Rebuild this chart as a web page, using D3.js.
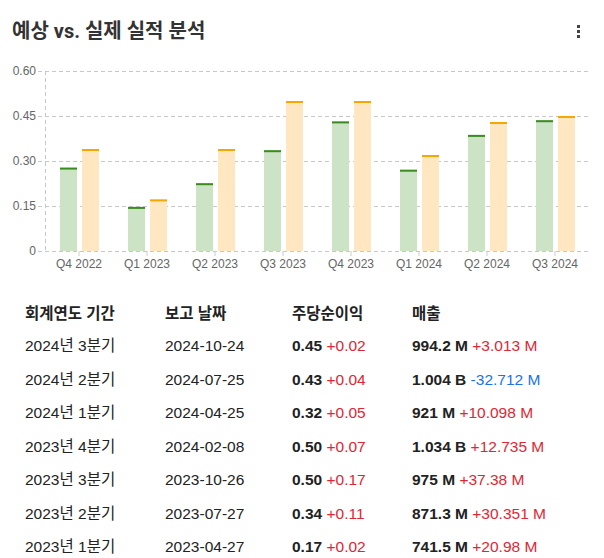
<!DOCTYPE html>
<html lang="ko">
<head>
<meta charset="UTF-8">
<title>예상 vs. 실제 실적 분석</title>
<style>
    body { margin: 0; background: #fff; }
    svg { display: block; }
    .title { font: bold 20px "Roboto", "Noto Sans CJK KR", sans-serif; fill: #333; }
    .axis text { font: 12px "Liberation Sans", "Roboto", sans-serif; fill: #666; }
    .grid line { stroke: #c8c8c8; stroke-dasharray: 4,3; }
    .cell { font: 15.5px "Liberation Sans", "Noto Sans CJK KR", sans-serif; fill: #222; }
    .head { font-weight: bold; }
</style>
</head>
<body>
<script src="https://d3js.org/d3.v7.min.js"></script>
<script>
    // chart data
    var quarters = ["Q4 2022", "Q1 2023", "Q2 2023", "Q3 2023", "Q4 2023", "Q1 2024", "Q2 2024", "Q3 2024"];
    var epsEstimate = [0.278, 0.147, 0.226, 0.336, 0.432, 0.271, 0.387, 0.436];
    var epsActual = [0.34, 0.172, 0.34, 0.50, 0.50, 0.32, 0.43, 0.45];
    var yTicks = [0, 0.15, 0.30, 0.45, 0.60];

    // table data
    var headers = ["회계연도 기간", "보고 날짜", "주당순이익", "매출"];
    var periods = ["2024년 3분기", "2024년 2분기", "2024년 1분기", "2023년 4분기", "2023년 3분기", "2023년 2분기", "2023년 1분기"];
    var reportDates = ["2024-10-24", "2024-07-25", "2024-04-25", "2024-02-08", "2023-10-26", "2023-07-27", "2023-04-27"];
    var epsReported = ["0.45", "0.43", "0.32", "0.50", "0.50", "0.34", "0.17"];
    var epsSurprise = ["+0.02", "+0.04", "+0.05", "+0.07", "+0.17", "+0.11", "+0.02"];
    var revenue = ["994.2 M", "1.004 B", "921 M", "1.034 B", "975 M", "871.3 M", "741.5 M"];
    var revenueSurprise = ["+3.013 M", "-32.712 M", "+10.098 M", "+12.735 M", "+37.38 M", "+30.351 M", "+20.98 M"];

    var W = 604, H = 558;
    var plot = {left: 45, right: 589, top: 71, bottom: 251};

    var svg = d3.select("body").append("svg")
        .attr("width", W)
        .attr("height", H);

    svg.append("text")
        .attr("class", "title")
        .attr("x", 12)
        .attr("y", 38)
        .text("예상 vs. 실제 실적 분석");

    // menu dots
    svg.selectAll(".dot")
        .data([0, 1, 2])
        .enter().append("rect")
        .attr("x", 577)
        .attr("y", d => 25 + d * 5)
        .attr("width", 3)
        .attr("height", 3)
        .attr("fill", "#444");

    var x = d3.scaleBand()
        .domain(quarters)
        .range([plot.left, plot.right]);

    var y = d3.scaleLinear()
        .domain([0, 0.6])
        .range([plot.bottom, plot.top]);

    // grid
    var grid = svg.append("g").attr("class", "grid");
    grid.selectAll(".h")
        .data(yTicks)
        .enter().append("line")
        .attr("x1", plot.left - 7)
        .attr("x2", plot.right)
        .attr("y1", d => y(d) + 0.5)
        .attr("y2", d => y(d) + 0.5);
    grid.append("line")
        .attr("x1", plot.left + 0.5)
        .attr("x2", plot.left + 0.5)
        .attr("y1", plot.top)
        .attr("y2", plot.bottom);

    // y labels
    svg.append("g")
        .attr("class", "axis")
        .selectAll("text")
        .data(yTicks)
        .enter().append("text")
        .attr("x", 36)
        .attr("y", d => y(d) + 4)
        .attr("text-anchor", "end")
        .text(d => d === 0 ? "0" : d3.format(".2f")(d));

    // x axis
    var xAxis = svg.append("g")
        .attr("class", "axis")
        .attr("transform", "translate(0," + plot.bottom + ")")
        .call(d3.axisBottom(x).tickSize(5).tickPadding(3).tickSizeOuter(0));
    xAxis.select(".domain").remove();
    xAxis.selectAll("line").attr("stroke", "#ccc");
    xAxis.selectAll("text").attr("fill", "#555");

    var barW = 17, gap = 5;
    var groups = svg.append("g");

    function bars(values, fill, top, offset) {
        var g = groups.append("g");
        g.selectAll("rect")
            .data(values)
            .enter().append("rect")
            .attr("x", (d, i) => x(quarters[i]) + x.bandwidth() / 2 + offset)
            .attr("y", d => y(d))
            .attr("width", barW)
            .attr("height", d => y(0) - y(d))
            .attr("fill", fill);
        g.selectAll("line")
            .data(values)
            .enter().append("line")
            .attr("x1", (d, i) => x(quarters[i]) + x.bandwidth() / 2 + offset)
            .attr("x2", (d, i) => x(quarters[i]) + x.bandwidth() / 2 + offset + barW)
            .attr("y1", d => y(d) + 1)
            .attr("y2", d => y(d) + 1)
            .attr("stroke", top)
            .attr("stroke-width", 2);
    }
    bars(epsEstimate, "#cde3c6", "#3b8c1f", -barW - gap / 2 + 0.5);
    bars(epsActual, "#ffe7c1", "#f7a800", gap / 2 + 0.5);

    // table
    var colX = [25, 165, 292, 412];
    var headY = 319, rowY0 = 351, rowH = 33.5;

    svg.append("g").selectAll("text")
        .data(headers)
        .enter().append("text")
        .attr("class", "cell head")
        .attr("x", (d, i) => colX[i])
        .attr("y", headY)
        .text(d => d);

    var rows = svg.append("g").selectAll("g")
        .data(periods)
        .enter().append("g")
        .attr("transform", (d, i) => "translate(0," + (rowY0 + i * rowH) + ")");

    rows.append("text").attr("class", "cell").attr("x", colX[0]).text(d => d);
    rows.append("text").attr("class", "cell").attr("x", colX[1]).text((d, i) => reportDates[i]);

    var eps = rows.append("text").attr("class", "cell").attr("x", colX[2]);
    eps.append("tspan").attr("font-weight", "bold").text((d, i) => epsReported[i]);
    eps.append("tspan")
        .attr("fill", (d, i) => epsSurprise[i][0] === "-" ? "#1a73e8" : "#e02633")
        .text((d, i) => " " + epsSurprise[i]);

    var rev = rows.append("text").attr("class", "cell").attr("x", colX[3]);
    rev.append("tspan").attr("font-weight", "bold").text((d, i) => revenue[i]);
    rev.append("tspan")
        .attr("fill", (d, i) => revenueSurprise[i][0] === "-" ? "#1a73e8" : "#e02633")
        .text((d, i) => " " + revenueSurprise[i]);
</script>
</body>
</html>
